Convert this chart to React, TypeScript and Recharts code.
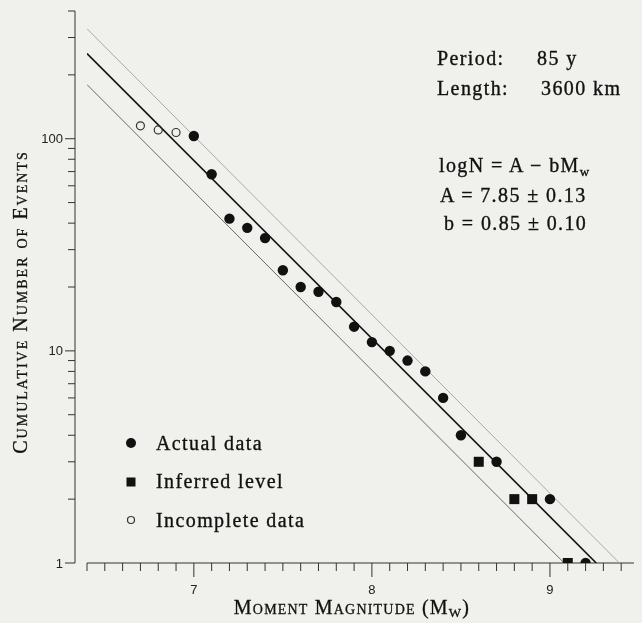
import { ScatterChart, Scatter, XAxis, YAxis, ReferenceLine, Legend } from "recharts"

// observed cumulative counts per magnitude bin
const actualMag = [7.0, 7.1, 7.2, 7.3, 7.4, 7.5, 7.6, 7.7, 7.8, 7.9, 8.0, 8.1, 8.2, 8.3, 8.4, 8.5, 8.7, 9.0, 9.2]
const actualCount = [103, 68, 42, 38, 34, 24, 20, 19, 17, 13, 11, 10, 9, 8, 6, 4, 3, 2, 1]
const inferredMag = [8.6, 8.8, 8.9, 9.1]
const inferredCount = [3, 2, 2, 1]
const incompleteMag = [6.7, 6.8, 6.9]
const incompleteCount = [115, 110, 107]

// fit line + the A +/- 0.13 lines, end points
const fitMag = [6.4, 9.26]
const fitCount = [252, 1]
const upperMag = [6.4, 9.39]
const upperCount = [330, 1]
const lowerMag = [6.4, 9.08]
const lowerCount = [180, 1]

const xMajor = [7, 8, 9]
const yMajor = [1, 10, 100]
const legendOrder = ["Actual data", "Inferred level", "Incomplete data"]

const zip = (m: number[], n: number[]) => m.map((v, i) => ({ m: v, n: n[i] }))

// minor ticks every 0.1 on x, 1-2-3... on the log y axis
const xTicks: number[] = []
for (let i = 64; i <= 94; i++) xTicks.push(i / 10)
const yTicks: number[] = []
for (const d of [1, 10, 100]) for (let k = 1; k <= 9; k++) if (d * k <= 400) yTicks.push(d * k)

const serif = "'Liberation Serif', 'Times New Roman', serif"
const sans = "'Liberation Sans', Arial, sans-serif"
const ink = "#111"
const axisColor = "#333"

function XTick({ x, y, payload }: any) {
  const v = payload.value
  const major = xMajor.some((t) => Math.abs(t - v) < 1e-6)
  return (
    <g>
      <line x1={x} x2={x} y1={y} y2={y + (major ? 14 : 8)} stroke={axisColor} strokeWidth={1} />
      {major && (
        <text x={x} y={y + 31} textAnchor="middle" fontFamily={sans} fontSize={13} fill="#222">
          {v}
        </text>
      )}
    </g>
  )
}

function YTick({ x, y, payload }: any) {
  const v = payload.value
  const major = yMajor.includes(v)
  return (
    <g>
      <line x1={x - (major ? 10 : 7)} x2={x} y1={y} y2={y} stroke={axisColor} strokeWidth={1} />
      {major && (
        <text x={x - 12} y={y + 4.5} textAnchor="end" fontFamily={sans} fontSize={13} fill="#222">
          {v}
        </text>
      )}
    </g>
  )
}

const dot = (p: any) => <circle cx={p.cx} cy={p.cy} r={5.2} fill="#111" />
const box = (p: any) => <rect x={p.cx - 5} y={p.cy - 5} width={10} height={10} fill="#111" />
const ring = (p: any) => <circle cx={p.cx} cy={p.cy} r={4} fill="none" stroke="#333" strokeWidth={1.2} />
const nothing = () => <g />

function legendIcon(name: string) {
  if (name === "Inferred level") return <rect x={2.5} y={2.5} width={9} height={9} fill="#111" />
  if (name === "Incomplete data") return <circle cx={7} cy={7} r={3.5} fill="none" stroke="#333" strokeWidth={1.2} />
  return <circle cx={7} cy={7} r={5} fill="#111" />
}

function LegendBox({ payload }: any) {
  const items = (payload || [])
    .filter((e: any) => e.type !== "none")
    .sort((a: any, b: any) => legendOrder.indexOf(a.value) - legendOrder.indexOf(b.value))
  return (
    <div>
      {items.map((e: any) => (
        <div key={e.value} style={{ display: "flex", alignItems: "center", height: 38.5 }}>
          <svg width={14} height={14}>{legendIcon(e.value)}</svg>
          <span
            style={{
              marginLeft: 18,
              fontFamily: serif,
              fontSize: 20,
              letterSpacing: 1.4,
              color: ink,
              WebkitTextStroke: "0.35px #111",
            }}
          >
            {e.value}
          </span>
        </div>
      ))}
    </div>
  )
}

export default function App() {
  return (
    <div style={{ position: "relative", width: 634, height: 615 }}>
      <div style={{ position: "fixed", inset: 0, background: "#f0f0ec", zIndex: -1 }} />
      <ScatterChart width={634} height={615} margin={{ top: 3, right: 3, bottom: 0, left: 0 }}>
        <XAxis
          type="number"
          dataKey="m"
          domain={[6.4, 9.5]}
          padding={{ left: 12, right: 0 }}
          ticks={xTicks}
          interval={0}
          tick={<XTick />}
          tickLine={false}
          tickSize={0}
          tickMargin={0}
          axisLine={false}
          height={60}
          allowDataOverflow
        />
        <YAxis
          type="number"
          dataKey="n"
          scale="log"
          domain={[1, 400]}
          ticks={yTicks}
          interval={0}
          tick={<YTick />}
          tickLine={false}
          tickSize={0}
          tickMargin={0}
          axisLine={{ stroke: axisColor, strokeWidth: 1 }}
          width={67}
          allowDataOverflow
        />
        <ReferenceLine
          segment={[{ x: 6.4, y: 1 }, { x: 9.5, y: 1 }]}
          stroke={axisColor}
          strokeWidth={1}
          ifOverflow="visible"
        />
        <Scatter data={zip(upperMag, upperCount)} line={{ stroke: "#a8a8a8", strokeWidth: 1 }} shape={nothing} legendType="none" isAnimationActive={false} />
        <Scatter data={zip(lowerMag, lowerCount)} line={{ stroke: "#6a6a6a", strokeWidth: 1 }} shape={nothing} legendType="none" isAnimationActive={false} />
        <Scatter data={zip(fitMag, fitCount)} line={{ stroke: "#111", strokeWidth: 1.6 }} shape={nothing} legendType="none" isAnimationActive={false} />
        <Scatter name="Actual data" data={zip(actualMag, actualCount)} shape={dot} legendType="circle" isAnimationActive={false} />
        <Scatter name="Inferred level" data={zip(inferredMag, inferredCount)} shape={box} legendType="square" isAnimationActive={false} />
        <Scatter name="Incomplete data" data={zip(incompleteMag, incompleteCount)} shape={ring} legendType="circle" isAnimationActive={false} />
        <Legend
          layout="vertical"
          align="center"
          verticalAlign="middle"
          content={<LegendBox />}
          wrapperStyle={{ position: "absolute", left: 116, top: 416, width: 220, height: "auto" }}
        />
      </ScatterChart>
      <svg width={634} height={615} style={{ position: "absolute", left: 0, top: 0, pointerEvents: "none" }}>
        <g fontFamily={serif} fontSize={20} fill={ink} stroke={ink} strokeWidth={0.35} letterSpacing={1.4}>
          <text x={429} y={57}>Period:</text>
          <text x={529} y={57}>85 y</text>
          <text x={429} y={87}>Length:</text>
          <text x={533} y={87}>3600 km</text>
          <text x={431} y={164}>
            logN = A − bM<tspan fontSize={13} dy={4}>w</tspan>
          </text>
          <text x={432} y={194}>A = 7.85 ± 0.13</text>
          <text x={436} y={222}>b = 0.85 ± 0.10</text>
        </g>
        <g fill={ink} stroke={ink} strokeWidth={0.3} fontFamily={serif} style={{ fontVariant: "small-caps" }}>
          <text x={344} y={606} textAnchor="middle" fontSize={20} letterSpacing={1.2}>
            Moment Magnitude (M<tspan fontSize={13} dy={3}>W</tspan>
            <tspan dy={-3}>)</tspan>
          </text>
          <text transform="rotate(-90)" x={-294} y={19} textAnchor="middle" fontSize={20} letterSpacing={2}>
            Cumulative Number of Events
          </text>
        </g>
      </svg>
    </div>
  )
}
